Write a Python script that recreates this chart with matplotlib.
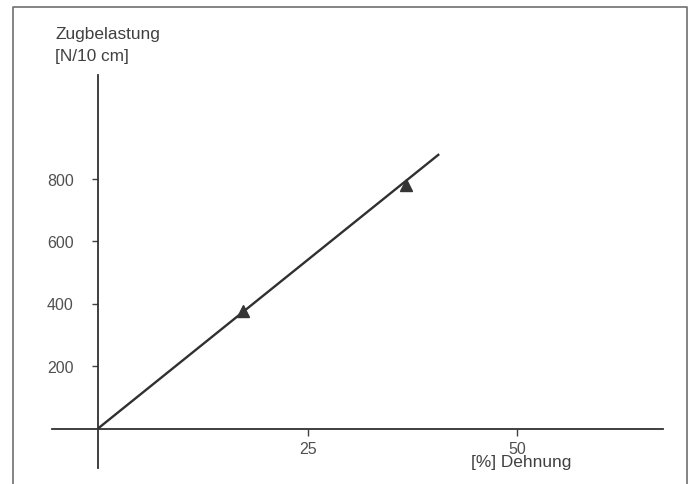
import matplotlib
matplotlib.use("Agg")
import matplotlib.pyplot as plt
from matplotlib.lines import Line2D

# values
line_x = [0, 40.7]
line_y = [0, 878]
point_x = [17.3, 36.7]
point_y = [376, 779]
x_ticks = [25, 50]
y_ticks = [200, 400, 600, 800]

plt.rcParams['font.family'] = ['Liberation Sans', 'DejaVu Sans']

W, H = 691, 485
fig = plt.figure(figsize=(W / 100, H / 100), dpi=100)

# axes box in pixels: x 52..663, y 76..469
left, right, top, bottom = 52, 663, 76, 469
ax = fig.add_axes([left / W, 1 - bottom / H, (right - left) / W, (bottom - top) / H])

ax.plot(line_x, line_y, color="#303030", lw=1.7, solid_capstyle="butt")
ax.plot(point_x, point_y, linestyle="none", marker="^", markersize=9,
        color="#353535")

ax.set_xlim(-5.49, 67.4)
ax.set_ylim(-126.4, 1131.2)

for side in ["top", "right"]:
    ax.spines[side].set_visible(False)
ax.spines["left"].set_position(("data", 0))
ax.spines["bottom"].set_position(("data", 0))
for side in ["left", "bottom"]:
    ax.spines[side].set_linewidth(1.3)
    ax.spines[side].set_color("#303030")

ax.set_xticks(x_ticks)
ax.set_yticks(y_ticks)
ax.set_xticklabels([str(v) for v in x_ticks])
ax.set_yticklabels([str(v) for v in y_ticks])
ax.tick_params(axis="y", direction="out", length=4.5, width=1, color="#404040",
               pad=13, labelsize=11.5, labelcolor="#505050")
ax.tick_params(axis="x", direction="out", length=5, width=1, color="#404040",
               pad=4, labelsize=11.5, labelcolor="#505050")
ax.patch.set_alpha(0)

fig.text(55 / W, 1 - 35 / H, "Zugbelastung", fontsize=12.4, color="#404040",
         va="center", ha="left")
fig.text(55 / W, 1 - 57 / H, "[N/10 cm]", fontsize=12.4, color="#404040",
         va="center", ha="left")
fig.text(521 / W, 1 - 463 / H, "[%] Dehnung", fontsize=12.4, color="#404040",
         va="center", ha="center")

# outer frame, open at the bottom
frame_x = [13 / W, 13 / W, 687 / W, 687 / W]
frame_y = [0, 1 - 8 / H, 1 - 8 / H, 0]
fig.add_artist(Line2D(frame_x, frame_y, color="#707070", lw=1.2))

fig.savefig("out.png", dpi=100)
